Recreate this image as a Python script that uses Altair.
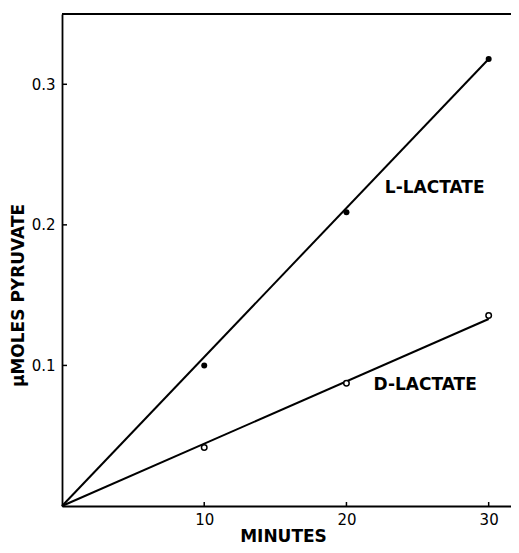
import altair as alt
import pandas as pd

# ---- data ----
minutes = [10, 20, 30]
l_lactate = [0.100, 0.209, 0.318]
d_lactate = [0.0416, 0.0874, 0.1355]
fit_minutes = [0, 30]
l_fit = [0.0, 0.318]
d_fit = [0.0, 0.133]
x_ticks = [10, 20, 30]
y_ticks = [0.1, 0.2, 0.3]
label_text = ["L-LACTATE", "D-LACTATE"]
label_minutes = [22.7, 21.9]
label_value = [0.226, 0.0858]

W, H = 449, 492
X_MAX = 31.57
FONT = "DejaVu Sans"

pts_l = pd.DataFrame({"minutes": minutes, "value": l_lactate})
pts_d = pd.DataFrame({"minutes": minutes, "value": d_lactate})
fits = pd.DataFrame({
    "minutes": fit_minutes + fit_minutes,
    "value": l_fit + d_fit,
    "series": ["L"] * 2 + ["D"] * 2,
})
labels = pd.DataFrame({"minutes": label_minutes, "value": label_value, "text": label_text})
xt = pd.DataFrame({"minutes": x_ticks})
yt = pd.DataFrame({"value": y_ticks})

xs = alt.Scale(domain=[0, X_MAX], nice=False, zero=True)
ys = alt.Scale(domain=[0, 0.35], nice=False, zero=True)

xaxis = alt.Axis(values=x_ticks, ticks=False, grid=False, domainColor="black",
                 domainWidth=1.8, labelFont=FONT, labelFontSize=15, labelColor="black",
                 labelPadding=6, title="MINUTES", titleFont=FONT, titleFontSize=17,
                 titleFontWeight="bold", titleColor="black", titleX=221, titleY=35,
                 titleBaseline="alphabetic", titleAlign="center")
yaxis = alt.Axis(values=y_ticks, format=".1f", ticks=False, grid=False, domainColor="black",
                 domainWidth=1.8, labelFont=FONT, labelFontSize=15, labelColor="black",
                 labelPadding=7, title="μMOLES PYRUVATE", titleFont=FONT, titleFontSize=17,
                 titleFontWeight="bold", titleColor="black", titleAngle=270,
                 titleX=-44, titleY=281, titleAlign="center", titleBaseline="middle")

X = alt.X("minutes:Q", scale=xs, axis=xaxis)
Y = alt.Y("value:Q", scale=ys, axis=yaxis)

lines = alt.Chart(fits).mark_line(color="black", strokeWidth=2).encode(
    x=X, y=Y, detail="series:N")
filled = alt.Chart(pts_l).mark_point(shape="circle", filled=True, size=36,
                                     color="black", opacity=1).encode(x=X, y=Y)
hollow = alt.Chart(pts_d).mark_point(shape="circle", filled=False, size=30,
                                     color="black", fill="white", fillOpacity=1,
                                     strokeWidth=1.5, opacity=1).encode(x=X, y=Y)
texts = alt.Chart(labels).mark_text(font=FONT, fontSize=17, fontWeight="bold",
                                    align="left", baseline="middle",
                                    color="black").encode(x=X, y=Y, text="text:N")
xtick = alt.Chart(xt).mark_rule(color="black", strokeWidth=1.5).encode(
    x=X, y=alt.value(H), y2=alt.value(H - 4))
ytick = alt.Chart(yt).mark_rule(color="black", strokeWidth=1.5).encode(
    y=Y, x=alt.value(0), x2=alt.value(5))
frame_top = alt.Chart(xt).mark_rule(color="black", strokeWidth=1.8).encode(
    x=alt.value(0), x2=alt.value(W), y=alt.value(0))

chart = alt.layer(lines, filled, hollow, texts, xtick, ytick, frame_top).properties(
    width=W, height=H,
    autosize=alt.AutoSizeParams(type="none"),
    padding={"left": 54, "top": 6, "right": 0, "bottom": 39},
).configure_view(stroke=None).configure(background="white")

chart.save("out.html", embed_options={"renderer": "svg", "actions": False})
